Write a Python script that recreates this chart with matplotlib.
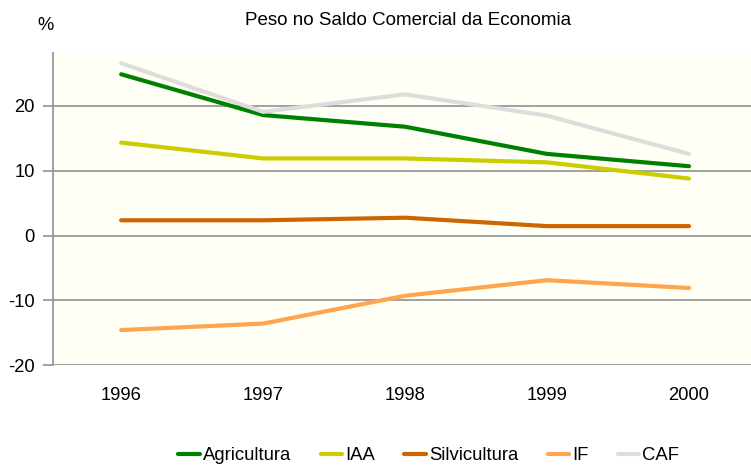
import matplotlib
matplotlib.use("Agg")
import matplotlib.pyplot as plt

plt.rcParams['font.family'] = ['Liberation Sans', 'DejaVu Sans']

years = ["1996", "1997", "1998", "1999", "2000"]
agricultura = [24.9, 18.6, 16.8, 12.6, 10.7]
iaa = [14.35, 11.9, 11.9, 11.3, 8.8]
silvicultura = [2.35, 2.35, 2.75, 1.45, 1.45]
if_vals = [-14.6, -13.6, -9.3, -6.9, -8.1]
caf = [26.6, 19.1, 21.8, 18.5, 12.6]

series = [("Agricultura", agricultura, "#008000"),
          ("IAA", iaa, "#CCCC00"),
          ("Silvicultura", silvicultura, "#CC6600"),
          ("IF", if_vals, "#FFA54F"),
          ("CAF", caf, "#DDDDDD")]

fig = plt.figure(figsize=(7.51, 4.68), dpi=100)
ax = fig.add_axes([0.0706, 0.220, 0.93, 0.667])
ax.set_facecolor("#FFFFF5")

x = list(range(len(years)))
for name, vals, col in series:
    ax.plot(x, vals, color=col, lw=3, label=name, solid_capstyle="round", zorder=3)

ax.set_ylim(-20, 28.2)
ax.set_xlim(-0.48, 4.44)
ax.set_yticks([-20, -10, 0, 10, 20])
ax.set_yticklabels(["-20", "-10", "0", "10", "20"])
ax.set_xticks(x)
ax.set_xticklabels(years)
ax.yaxis.grid(True, color="#999999", lw=1.3)
ax.set_axisbelow(True)
for s in ["top", "right", "bottom"]:
    ax.spines[s].set_visible(False)
ax.spines["left"].set_color("#999999")
ax.spines["left"].set_linewidth(1.3)
ax.tick_params(axis="y", length=7, width=1.3, color="#999999", labelsize=13.2, pad=6)
ax.tick_params(axis="x", length=0, labelsize=13.2, pad=16)

fig.text(0.543, 0.957, "Peso no Saldo Comercial da Economia", ha="center", va="center", fontsize=13.5)
fig.text(0.06, 0.945, "%", ha="center", va="center", fontsize=13.2)

fig.legend(loc="center", bbox_to_anchor=(0.571, 0.026), ncol=5, frameon=False,
           fontsize=13.3, handlelength=1.15, handletextpad=0.17, columnspacing=1.6,
           borderpad=0, borderaxespad=0)

fig.savefig("out.png", dpi=100)
